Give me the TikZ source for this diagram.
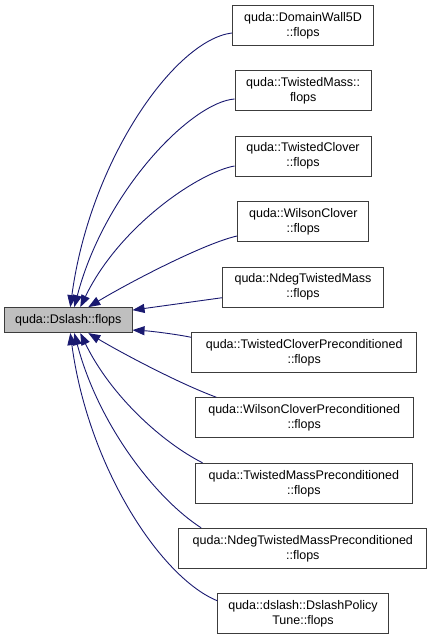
\documentclass[tikz,border=0pt]{standalone}
\usepackage{fontspec}
\setmainfont{Liberation Sans}
\usetikzlibrary{arrows.meta}
\definecolor{edgeblue}{HTML}{191970}
\definecolor{boxline}{HTML}{3C3C3C}
\definecolor{mainfill}{HTML}{BFBFBF}
\begin{document}
\begin{tikzpicture}[x=1pt,y=-1pt,
  box/.style={draw=boxline, line width=1pt, fill=white, minimum height=40pt,
    inner sep=0pt, align=center, font=\fontsize{12.5}{15}\selectfont},
  link/.style={draw=edgeblue, line width=0.9pt,
    -{Triangle[length=12pt,width=9pt]}}]
\useasboundingbox (0,0) rectangle (432,640);

\node[box, fill=mainfill, minimum width=127.5pt, minimum height=25pt] (main) at (68.3,320.1) {quda::Dslash::flops};

\node[box, minimum width=141.4pt] (n1) at (303,25.7) {quda::DomainWall5D\\::flops};
\node[box, minimum width=136.3pt] (n2) at (303.2,90.7) {quda::TwistedMass::\\flops};
\node[box, minimum width=136pt] (n3) at (303,156) {quda::TwistedClover\\::flops};
\node[box, minimum width=131.3pt] (n4) at (303.3,221.7) {quda::WilsonClover\\::flops};
\node[box, minimum width=160.6pt] (n5) at (303,287) {quda::NdegTwistedMass\\::flops};
\node[box, minimum width=225pt] (n6) at (304.2,352.3) {quda::TwistedCloverPreconditioned\\::flops};
\node[box, minimum width=218.3pt] (n7) at (304.2,417.7) {quda::WilsonCloverPreconditioned\\::flops};
\node[box, minimum width=216.3pt] (n8) at (303.9,483.3) {quda::TwistedMassPreconditioned\\::flops};
\node[box, minimum width=247.7pt] (n9) at (302.8,548.3) {quda::NdegTwistedMassPreconditioned\\::flops};
\node[box, minimum width=170.6pt] (n10) at (303,613.3) {quda::dslash::DslashPolicy\\Tune::flops};

\draw[link] ([yshift=-7.3pt]n1.west) .. controls (175,40) and (90,160) .. ([xshift=2pt]main.north);
\draw[link] ([yshift=-8.3pt]n2.west) .. controls (192,102) and (105,190) .. ([xshift=6pt]main.north);
\draw[link] ([yshift=-10pt]n3.west) .. controls (200,172) and (120,225) .. ([xshift=12pt]main.north);
\draw[link] ([yshift=-14.3pt]n4.west) .. controls (205,243) and (130,282) .. ([xshift=20pt]main.north);
\draw[link] ([yshift=-10.7pt]n5.west) -- ([yshift=10pt]main.east);
\draw[link] ([yshift=15pt]n6.west) .. controls (175,334) and (150,331) .. ([yshift=-10pt]main.east);
\draw[link] ([xshift=21.7pt]n7.north west) .. controls (180.3,384) and (122.9,353.7) .. ([xshift=20pt]main.south);
\draw[link] ([xshift=7.3pt]n8.north west) .. controls (163.5,443.1) and (111.3,396.9) .. ([xshift=12pt]main.south);
\draw[link] ([xshift=22.7pt]n9.north west) .. controls (157.2,499.7) and (98.9,426.5) .. ([xshift=6pt]main.south);
\draw[link] ([yshift=12.6pt]n10.west) .. controls (161.5,578.1) and (88.4,468.2) .. ([xshift=2pt]main.south);
\end{tikzpicture}
\end{document}
